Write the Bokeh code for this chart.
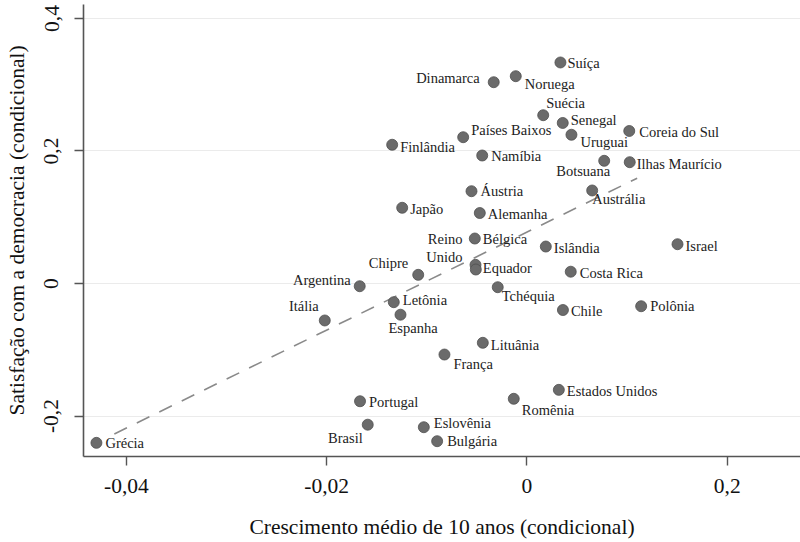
from bokeh.plotting import figure
from bokeh.models import ColumnDataSource, FixedTicker, Range1d
from bokeh.embed import file_html
from bokeh.resources import INLINE
from bokeh.core.properties import value

# ---- data ----
countries = ["Suíça", "Dinamarca", "Noruega", "Suécia", "Senegal", "Uruguai",
             "Países Baixos", "Finlândia", "Coreia do Sul", "Namíbia", "Botsuana",
             "Ilhas Maurício", "Áustria", "Austrália", "Japão", "Alemanha", "Bélgica",
             "Reino\nUnido", "Equador", "Islândia", "Israel", "Chipre", "Costa Rica",
             "Tchéquia", "Letônia", "Espanha", "Chile", "Polônia", "Argentina", "Itália",
             "Portugal", "Brasil", "Eslovênia", "Grécia", "Lituânia", "França",
             "Estados Unidos", "Romênia", "Bulgária"]
growth = [0.00334, -0.00332, -0.00112, 0.00162, 0.00357, 0.00444,
          -0.00637, -0.01346, 0.01021, -0.00447, 0.00771,
          0.01026, -0.00554, 0.00651, -0.01246, -0.00471, -0.00521,
          -0.00514, -0.00511, 0.00188, 0.01503, -0.01086, 0.00437,
          -0.00292, -0.01330, -0.01263, 0.00359, 0.01140, -0.01670, -0.02019,
          -0.01667, -0.01590, -0.01030, -0.04299, -0.00441, -0.00824,
          0.00318, -0.00132, -0.00897]
satisfaction = [0.3336, 0.3038, 0.3129, 0.2540, 0.2423, 0.2245,
                0.2208, 0.2094, 0.2302, 0.1932, 0.1852,
                0.1831, 0.1393, 0.1404, 0.1143, 0.1064, 0.0679,
                0.0282, 0.0211, 0.0558, 0.0593, 0.0131, 0.0178,
                -0.0056, -0.0282, -0.0471, -0.0400, -0.0343, -0.0041, -0.0558,
                -0.1777, -0.2131, -0.2169, -0.2405, -0.0895, -0.1072,
                -0.1605, -0.1740, -0.2380]

x_ticks = [-0.04, -0.02, 0.0, 0.02]
x_tick_labels = ["-0,04", "-0,02", "0", "0,2"]
y_ticks = [-0.2, 0.0, 0.2, 0.4]
y_tick_labels = ["-0,2", "0", "0,2", "0,4"]

fit_intercept = 0.0776
fit_slope = 7.394
fit_x_span = [-0.0412, 0.011]

x_title = "Crescimento médio de 10 anos (condicional)"
y_title = "Satisfação com a democracia (condicional)"

# ---- label placement (screen px: align, dx, dy down) ----
placement = {
    "Suíça": ("left", 7, 1), "Dinamarca": ("right", -14, -4), "Noruega": ("left", 9, 8),
    "Suécia": ("left", 3, -12), "Senegal": ("left", 8, -3), "Uruguai": ("left", 9, 7),
    "Países Baixos": ("left", 8, -7), "Finlândia": ("left", 8, 2),
    "Coreia do Sul": ("left", 10, 1), "Namíbia": ("left", 9, 1),
    "Botsuana": ("right", 6, 10), "Ilhas Maurício": ("left", 7, 2),
    "Áustria": ("left", 9, 0), "Austrália": ("left", 0, 9), "Japão": ("left", 8, 1),
    "Alemanha": ("left", 8, 1), "Bélgica": ("left", 8, 0),
    "Reino\nUnido": ("right", -13, -17), "Equador": ("left", 7, -2),
    "Islândia": ("left", 8, 1), "Israel": ("left", 8, 2), "Chipre": ("right", -10, -12),
    "Costa Rica": ("left", 9, 1), "Tchéquia": ("left", 4, 9), "Letônia": ("left", 9, -2),
    "Espanha": ("left", -12, 13), "Chile": ("left", 8, 1), "Polônia": ("left", 9, 0),
    "Argentina": ("right", -9, -6), "Itália": ("right", -6, -14),
    "Portugal": ("left", 9, 1), "Brasil": ("right", -5, 13), "Eslovênia": ("left", 10, -4),
    "Grécia": ("left", 9, 0), "Lituânia": ("left", 8, 2), "França": ("left", 9, 9),
    "Estados Unidos": ("left", 8, 1), "Romênia": ("left", 8, 11), "Bulgária": ("left", 10, 0),
}

FONT = "Liberation Serif"

p = figure(width=800, height=542, output_backend="svg", toolbar_location=None,
           x_range=Range1d(-0.04428, 0.02731), y_range=Range1d(-0.2611, 0.4211),
           min_border_left=83, min_border_right=0, min_border_top=4, min_border_bottom=86)
p.outline_line_color = None
p.background_fill_color = "white"
p.border_fill_color = "white"

p.xgrid.visible = False
p.ygrid.grid_line_color = "#ebebeb"
p.ygrid.grid_line_width = 1.2

p.xaxis.ticker = FixedTicker(ticks=x_ticks)
p.xaxis.major_label_overrides = {t: l for t, l in zip(x_ticks, x_tick_labels)}
p.yaxis.ticker = FixedTicker(ticks=y_ticks)
p.yaxis.major_label_overrides = {t: l for t, l in zip(y_ticks, y_tick_labels)}
p.yaxis.major_label_orientation = "vertical"

p.xaxis.axis_label = x_title
p.yaxis.axis_label = y_title

for ax in (p.xaxis, p.yaxis):
    ax.axis_line_color = "#555555"
    ax.axis_line_width = 1.6
    ax.major_tick_line_color = "#555555"
    ax.major_tick_line_width = 1.4
    ax.major_tick_out = 9
    ax.major_tick_in = 0
    ax.minor_tick_out = 0
    ax.minor_tick_in = 0
    ax.major_label_text_font = FONT
    ax.major_label_text_font_size = "21.5px"
    ax.major_label_text_color = "#111111"
    ax.axis_label_text_font = FONT
    ax.axis_label_text_font_size = "21.5px"
    ax.axis_label_text_font_style = "normal"
    ax.axis_label_text_color = "#111111"
p.xaxis.major_label_standoff = 13
p.xaxis.axis_label_standoff = 19
p.yaxis.major_label_standoff = 16
p.yaxis.axis_label_standoff = 13

# fitted dashed line
fx = list(fit_x_span)
fy = [fit_intercept + fit_slope * v for v in fx]
p.line(fx, fy, line_color="#8a8a8a", line_width=1.6, line_dash="14 11")

src = ColumnDataSource(dict(x=growth, y=satisfaction, name=countries))
p.scatter("x", "y", source=src, size=11, fill_color="#6b6b6b",
          line_color="#4f4f4f", line_width=0.8)

for align in ("left", "right"):
    idx = [i for i, c in enumerate(countries) if placement[c][0] == align]
    lsrc = ColumnDataSource(dict(
        x=[growth[i] for i in idx], y=[satisfaction[i] for i in idx],
        name=[countries[i] for i in idx],
        dx=[placement[countries[i]][1] for i in idx],
        dy=[placement[countries[i]][2] for i in idx]))
    p.text(x="x", y="y", text="name", source=lsrc, x_offset="dx", y_offset="dy",
           text_align=align, text_baseline="middle", text_font=value(FONT),
           text_font_size="14.5px", text_color="#222222", text_line_height=1.1)

open("out.html", "w").write(file_html(p, INLINE))
